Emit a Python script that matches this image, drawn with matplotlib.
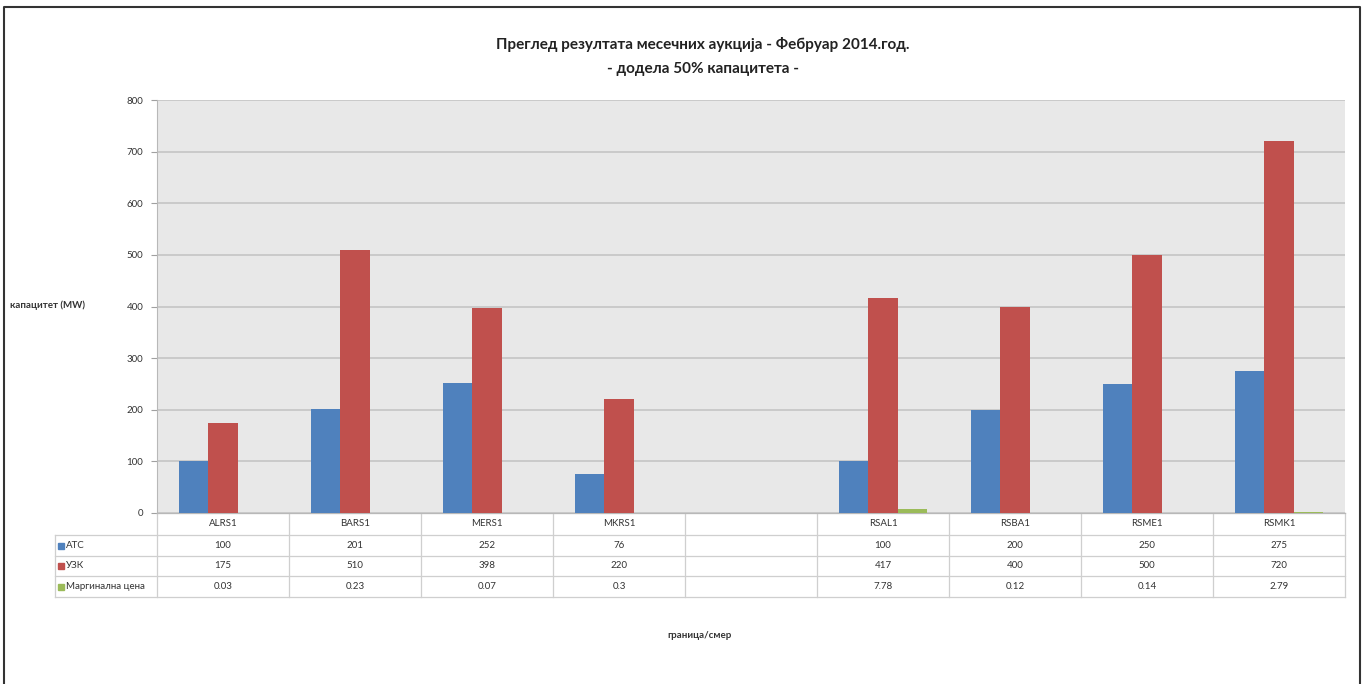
import numpy as np
import matplotlib.pyplot as plt
from matplotlib.patches import Rectangle

plt.rcParams['font.family'] = ['Lato', 'DejaVu Sans']

categories = ['ALRS1', 'BARS1', 'MERS1', 'MKRS1', '', 'RSAL1', 'RSBA1', 'RSME1', 'RSMK1']
atc = [100, 201, 252, 76, None, 100, 200, 250, 275]
uzk = [175, 510, 398, 220, None, 417, 400, 500, 720]
marg = [0.03, 0.23, 0.07, 0.3, None, 7.78, 0.12, 0.14, 2.79]
marg_txt = ['0.03', '0.23', '0.07', '0.3', '', '7.78', '0.12', '0.14', '2.79']

series_names = ['АТС', 'УЗК', 'Маргинална цена']
colors = ['#4f81bd', '#c0504d', '#9bbb59']

W, H = 1364, 684
fig = plt.figure(figsize=(W / 100, H / 100), dpi=100)

# plot area in pixels
px0, px1 = 157, 1345
py_top, py_bot = 100, 513
ax = fig.add_axes([px0 / W, 1 - py_bot / H, (px1 - px0) / W, (py_bot - py_top) / H])
ax.set_facecolor('#e8e8e8')

x = np.arange(len(categories))
bw = 1 / 4.5
data = [atc, uzk, marg]
for i, vals in enumerate(data):
    v = np.array([np.nan if d is None else d for d in vals], dtype=float)
    ax.bar(x + (i - 1) * bw, v, width=bw, color=colors[i], zorder=3)

ax.set_xlim(-0.5, len(categories) - 0.5)
ax.set_ylim(0, 800)
ax.set_yticks(range(0, 801, 100))
ax.tick_params(axis='y', labelsize=7, length=4, color='#a0a0a0', labelcolor='#333333', pad=6)
ax.set_xticks([])
ax.grid(axis='y', color='#c4c4c4', linewidth=1.2, zorder=1)
for s in ['top', 'right']:
    ax.spines[s].set_visible(False)
ax.spines['left'].set_color('#b8b8b8')
ax.spines['bottom'].set_color('#b8b8b8')

# data table below the plot
def fx(px):
    return (px - px0) / (px1 - px0)

def fy(py):
    return (py_bot - py) / (py_bot - py_top)

tr = ax.transAxes
line_kw = dict(color='#cfcfcf', linewidth=0.9, transform=tr, clip_on=False)
rows_y = [513, 535, 556, 576, 597]
label_left = 55
cat_w = (px1 - px0) / len(categories)

# horizontal lines
ax.plot([fx(px0), fx(px1)], [fy(513), fy(513)], **line_kw)
for yy in rows_y[1:]:
    ax.plot([fx(label_left), fx(px1)], [fy(yy), fy(yy)], **line_kw)
# vertical lines
ax.plot([fx(label_left), fx(label_left)], [fy(535), fy(597)], **line_kw)
for k in range(len(categories) + 1):
    xx = px0 + k * cat_w
    ax.plot([fx(xx), fx(xx)], [fy(513), fy(597)], **line_kw)

# category header
for k, c in enumerate(categories):
    cx = px0 + (k + 0.5) * cat_w
    ax.text(fx(cx), fy(524), c, transform=tr, ha='center', va='center',
            fontsize=7, color='#333333')

row_texts = [[('' if v is None else str(v)) for v in atc],
             [('' if v is None else str(v)) for v in uzk],
             marg_txt]
for r in range(3):
    yc = (rows_y[r + 1] + rows_y[r + 2]) / 2
    ax.add_patch(Rectangle((fx(58), fy(yc + 3)), fx(64) - fx(58), fy(yc - 3) - fy(yc + 3),
                           transform=tr, color=colors[r], clip_on=False))
    ax.text(fx(66), fy(yc), series_names[r], transform=tr, ha='left', va='center',
            fontsize=7, color='#333333')
    for k, t in enumerate(row_texts[r]):
        cx = px0 + (k + 0.5) * cat_w
        ax.text(fx(cx), fy(yc), t, transform=tr, ha='center', va='center',
                fontsize=7, color='#333333')

fig.text(10 / W, 1 - 305 / H, 'капацитет (MW)', ha='left', va='center',
         fontsize=7, fontweight='bold', color='#333333')
fig.text(700 / W, 1 - 635 / H, 'граница/смер', ha='center', va='center',
         fontsize=7, fontweight='bold', color='#333333')
fig.text(703 / W, 1 - 45 / H, 'Преглед резултата месечних аукција - Фебруар 2014.год.',
         ha='center', va='center', fontsize=11, fontweight='bold', color='#222222')
fig.text(703 / W, 1 - 69 / H, '- додела 50% капацитета -',
         ha='center', va='center', fontsize=11, fontweight='bold', color='#222222')

# outer frame
fig.add_artist(plt.Line2D([4 / W, 4 / W, 1360 / W, 1360 / W], [0, 1 - 7 / H, 1 - 7 / H, 0],
                          color='#333333', linewidth=1.5, transform=fig.transFigure))

fig.savefig('out.png', dpi=100)
